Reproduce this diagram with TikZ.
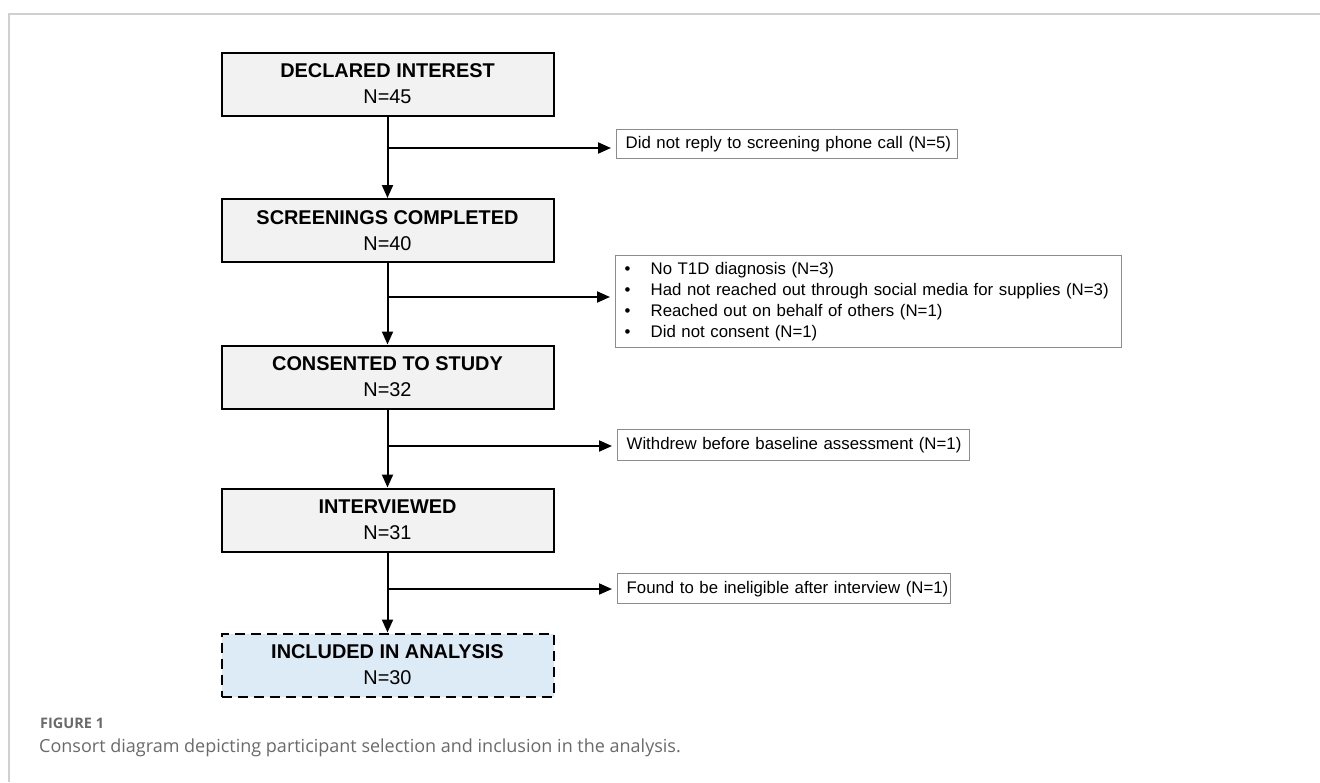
\documentclass[tikz,border=0pt]{standalone}
\usepackage{fontspec}
\setmainfont{Liberation Sans}
\newfontfamily\capfont{Open Sans}
\usetikzlibrary{arrows.meta}
\definecolor{boxgray}{HTML}{F2F2F2}
\definecolor{boxblue}{HTML}{DDEBF7}
\definecolor{sidegray}{HTML}{8C8C8C}
\definecolor{framegray}{HTML}{D0D0D0}
\definecolor{capgray}{HTML}{6A6A6A}
\begin{document}
\begin{tikzpicture}[x=1pt,y=-1pt,
  mainbox/.style={draw=black, line width=2pt, fill=boxgray, minimum width=332pt,
    minimum height=63pt, inner sep=0pt, align=center,
    font=\fontsize{19.9}{26}\selectfont},
  lastbox/.style={mainbox, fill=boxblue, dash pattern=on 10pt off 6pt},
  sidebox/.style={draw=sidegray, line width=1.3pt, fill=white, anchor=north west,
    inner xsep=9pt, inner ysep=0pt, align=left,
    font=\fontsize{16.8}{21}\selectfont},
  conn/.style={line width=2pt, -{Triangle[length=13pt,width=11pt]}},
  side/.style={conn, shorten >=5pt},
  captext/.style={anchor=west, inner sep=0pt, text=capgray},
]
\useasboundingbox (0,0) rectangle (1320,782);
\fill[white] (0,0) rectangle (1320,782);
\draw[framegray, line width=1.5pt] (9,782) -- (9,14) -- (1320,14);

% main boxes
\node[mainbox] (b1) at (387.5,84)    {\textbf{DECLARED INTEREST}\\N=45};
\node[mainbox] (b2) at (387.5,230.5) {\textbf{SCREENINGS COMPLETED}\\N=40};
\node[mainbox] (b3) at (387.5,377)   {\textbf{CONSENTED TO STUDY}\\N=32};
\node[mainbox] (b4) at (387.5,520)   {\textbf{INTERVIEWED}\\N=31};
\node[lastbox] (b5) at (387.5,665)   {\textbf{INCLUDED IN ANALYSIS}\\N=30};

% side boxes
\node[sidebox, text width=323pt, minimum height=29pt] (s1) at (616,129)
  {\mbox{Did not reply to screening phone call (N=5)}};
\node[sidebox, text width=488pt, minimum height=92pt] (s2) at (615,255)
  {\makebox[26pt][l]{\textbullet}No T1D diagnosis (N=3)\\
   \makebox[26pt][l]{\textbullet}Had not reached out through social media for supplies (N=3)\\
   \makebox[26pt][l]{\textbullet}Reached out on behalf of others (N=1)\\
   \makebox[26pt][l]{\textbullet}Did not consent (N=1)};
\node[sidebox, text width=334pt, minimum height=31pt] (s3) at (617,429)
  {\mbox{Withdrew before baseline assessment (N=1)}};
\node[sidebox, text width=315pt, minimum height=30pt] (s4) at (617,573)
  {\mbox{Found to be ineligible after interview (N=1)}};

% junctions
\coordinate (j1) at (387.5,148);
\coordinate (j2) at (387.5,297);
\coordinate (j3) at (387.5,446);
\coordinate (j4) at (387.5,589);

% connectors
\draw[conn] (b1.south) -- (b2.north);
\draw[conn] (b2.south) -- (b3.north);
\draw[conn] (b3.south) -- (b4.north);
\draw[conn] (b4.south) -- (b5.north);
\draw[side] (j1) -- (j1 -| s1.west);
\draw[side] (j2) -- (j2 -| s2.west);
\draw[side] (j3) -- (j3 -| s3.west);
\draw[side] (j4) -- (j4 -| s4.west);

% caption
\node[captext, font=\capfont\bfseries\fontsize{14.5}{17}\selectfont] (fig) at (40,723) {FIGURE 1};
\node[captext, font=\capfont\fontsize{18}{21}\selectfont] (cap) at (39,748)
  {Consort diagram depicting participant selection and inclusion in the analysis.};
\end{tikzpicture}
\end{document}
